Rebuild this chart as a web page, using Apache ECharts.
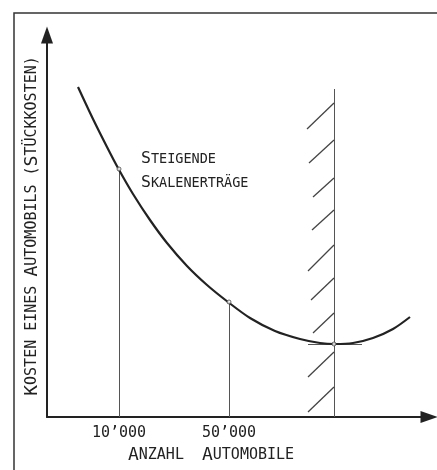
<!DOCTYPE html>
<html><head><meta charset="utf-8">
<script src="https://cdn.jsdelivr.net/npm/echarts@6/dist/echarts.min.js"></script>
<style>html,body{margin:0;padding:0;background:#fff}#c{width:437px;height:470px}</style>
</head><body><div id="c"></div>
<script>
// Average cost curve (abstract units)
const curveX = [31, 46, 60, 71, 86, 103, 120, 140, 160, 181, 203, 228, 253, 273, 288, 306, 326, 346, 363];
const curveY = [330, 298, 270, 249, 223, 197, 174, 151, 132, 115, 99, 86, 78, 74, 73, 74, 79, 88, 100];
// Quantities marked on x axis
const tickValues = [72, 182];
const tickLabels = ["10’000", "50’000"];
const dropTopY = [248, 115];
// Capacity limit line
const capacityX = 287;
const capacityTopY = 328;
const minCostY = 73;
const tangentX = [261, 315];
// Hatch marks on capacity limit
const hatchTopY = [314, 277, 239, 207, 172, 139, 104, 65, 30];
const hatchBottomX = [260, 262, 266, 265, 261, 264, 266, 261, 261];
const hatchBottomY = [288, 254, 220, 187, 146, 117, 84, 40, 5];

const FONT = '"DejaVu Sans Mono", monospace';
const INK = '#222';
const THIN = '#555';

const chart = echarts.init(document.getElementById('c'));
const curveData = curveX.map((x, i) => [x, curveY[i]]);
const dropLines = tickValues.map((x, i) => ({coords: [[x, 0], [x, dropTopY[i]]]}));
dropLines.push({coords: [[capacityX, 0], [capacityX, capacityTopY]]});
dropLines.push({coords: [[tangentX[0], minCostY], [tangentX[1], minCostY]]});
const hatch = hatchTopY.map((y, i) => ({coords: [[capacityX, y], [hatchBottomX[i], hatchBottomY[i]]]}));
const markers = tickValues.map((x, i) => [x, dropTopY[i]]).concat([[capacityX, minCostY]]);

const richNote = {
  c: {fontFamily: FONT, fontSize: 16.5, color: INK},
  s: {fontFamily: FONT, fontSize: 13.5, color: INK}
};
const richAxis = {
  c: {fontFamily: FONT, fontSize: 18, color: INK},
  s: {fontFamily: FONT, fontSize: 15, color: INK}
};

chart.setOption({
  backgroundColor: '#fff',
  animation: false,
  grid: {left: 47, top: 35, width: 382, height: 382},
  graphic: [
    {type: 'rect', shape: {x: 14, y: 13, width: 600, height: 600}, style: {fill: 'none', stroke: '#333', lineWidth: 1.5}, silent: true},
    {type: 'text', left: 141, top: 147, style: {
      text: '{c|S}{s|TEIGENDE}\n{c|S}{s|KALENERTRÄGE}', rich: richNote, lineHeight: 24, fill: INK}}
  ],
  xAxis: {
    type: 'value', min: 0, max: 382,
    axisLine: {show: true, onZero: false, symbol: ['none', 'triangle'], symbolSize: [12, 17], lineStyle: {color: INK, width: 2}},
    axisTick: {show: false},
    splitLine: {show: false},
    axisLabel: {
      customValues: tickValues,
      formatter: v => tickLabels[tickValues.indexOf(v)],
      fontFamily: FONT, fontSize: 15, color: INK, margin: 9
    },
    name: '{c|A}{s|NZAHL  }{c|A}{s|UTOMOBILE}',
    nameLocation: 'middle', nameGap: 27,
    nameTextStyle: {rich: richAxis, padding: [0, 54, 0, 0]}
  },
  yAxis: {
    type: 'value', min: 0, max: 382,
    axisLine: {show: true, onZero: false, symbol: ['none', 'triangle'], symbolSize: [12, 17], lineStyle: {color: INK, width: 2}},
    axisTick: {show: false},
    splitLine: {show: false},
    axisLabel: {show: false},
    name: '{c|K}{s|OSTEN EINES }{c|A}{s|UTOMOBILS (}{c|S}{s|TÜCKKOSTEN)}',
    nameLocation: 'middle', nameGap: 6, nameRotate: 90,
    nameTextStyle: {rich: richAxis}
  },
  series: [
    {type: 'lines', coordinateSystem: 'cartesian2d', data: dropLines, silent: true,
     lineStyle: {color: THIN, width: 1, opacity: 1}, z: 2},
    {type: 'lines', coordinateSystem: 'cartesian2d', data: hatch, silent: true,
     lineStyle: {color: '#444', width: 1.3, opacity: 1}, z: 2},
    {type: 'line', data: curveData, smooth: 0.3, showSymbol: false, silent: true,
     lineStyle: {color: INK, width: 2.2}, z: 3},
    {type: 'scatter', data: markers, symbol: 'circle', symbolSize: 4, silent: true,
     itemStyle: {color: '#fff', borderColor: '#444', borderWidth: 1}, z: 4}
  ]
});
</script>
</body></html>
